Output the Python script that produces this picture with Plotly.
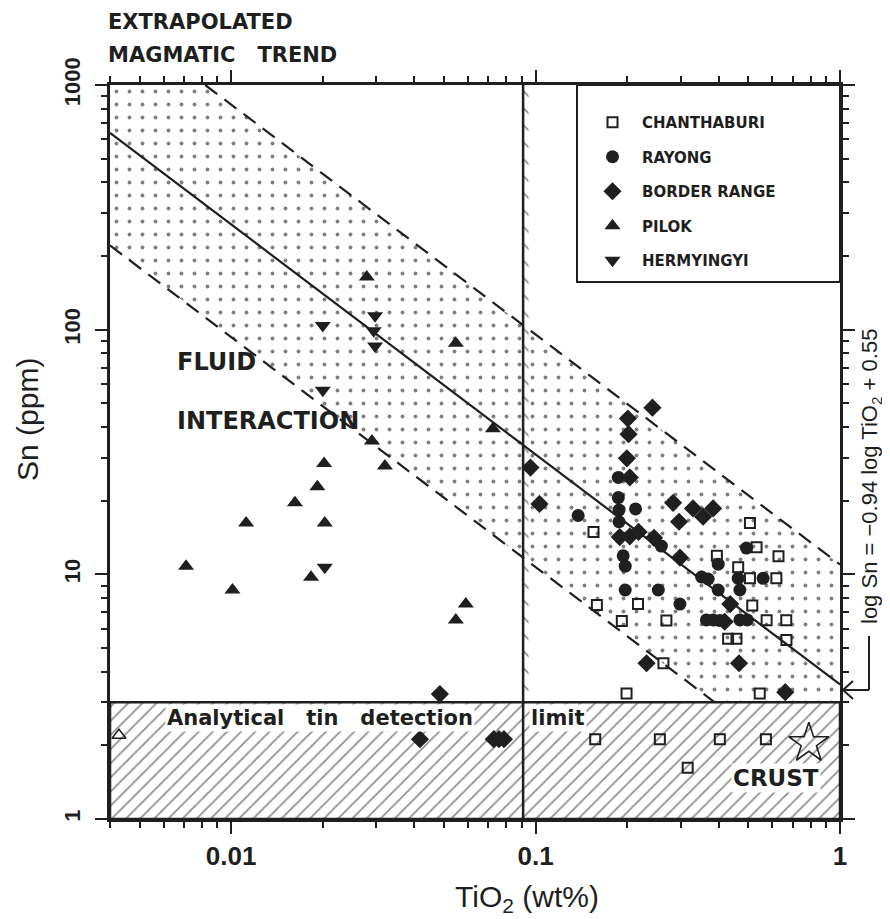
import numpy as np
import plotly.graph_objects as go

# ---------------- data ----------------
CHAN_TIO2 = [0.155, 0.159, 0.217, 0.192, 0.269, 0.263, 0.199, 0.506, 0.394, 0.532, 0.628, 0.463,
             0.506, 0.618, 0.515, 0.574, 0.666, 0.429, 0.457, 0.667, 0.545,
             0.157, 0.256, 0.403, 0.571, 0.316]
CHAN_SN = [14.9, 7.49, 7.56, 6.44, 6.47, 4.33, 3.26, 16.2, 11.9, 12.9, 11.85, 10.7,
           9.63, 9.63, 7.46, 6.49, 6.49, 5.46, 5.46, 5.39, 3.26,
           2.12, 2.12, 2.12, 2.12, 1.62]

RAY_TIO2 = [0.138, 0.187, 0.187, 0.188, 0.188, 0.213, 0.194, 0.197, 0.259, 0.351, 0.369, 0.197,
            0.253, 0.298, 0.398, 0.493, 0.463, 0.469, 0.559, 0.398, 0.364, 0.383, 0.403, 0.469, 0.496]
RAY_SN = [17.4, 24.9, 20.6, 18.3, 16.4, 18.5, 11.9, 10.8, 13.05, 9.75, 9.57, 8.63,
          8.63, 7.56, 11.0, 12.8, 9.63, 8.63, 9.63, 8.63, 6.51, 6.51, 6.47, 6.51, 6.51]

BORDER_TIO2 = [0.242, 0.201, 0.202, 0.1995, 0.204, 0.0962, 0.103, 0.189, 0.204, 0.218, 0.245, 0.298,
               0.283, 0.296, 0.329, 0.355, 0.383, 0.436, 0.418, 0.2315, 0.466, 0.661, 0.0485,
               0.0417, 0.0729, 0.0758, 0.0787]
BORDER_SN = [48.0, 43.3, 37.4, 29.8, 24.9, 27.3, 19.4, 14.2, 14.3, 14.9, 14.1, 11.7,
             19.6, 16.4, 18.6, 17.2, 18.6, 7.56, 6.40, 4.33, 4.33, 3.30, 3.24,
             2.12, 2.12, 2.12, 2.12]

PILOK_TIO2 = [0.0279, 0.0547, 0.0724, 0.0290, 0.0202, 0.0320, 0.0192, 0.0162, 0.0112, 0.0203,
              0.00711, 0.0183, 0.0101, 0.0590, 0.0547]
PILOK_SN = [164, 88, 39.4, 35.1, 28.4, 27.7, 22.8, 19.6, 16.2, 16.2, 10.8, 9.72, 8.63, 7.56, 6.51]
PILOK_BDL_TIO2 = [0.00428]
PILOK_BDL_SN = [2.20]

HERM_TIO2 = [0.0297, 0.0294, 0.0297, 0.0200, 0.0200, 0.0203]
HERM_SN = [114, 99.0, 85.7, 104, 56.6, 10.7]

CRUST_TIO2 = [0.79]
CRUST_SN = [2.04]

# trend: log Sn = SLOPE * log TiO2 + INTERCEPT
SLOPE = -0.94
INTERCEPT = 0.55
BAND_UPPER = 0.49     # offset of upper dashed line (log units)
BAND_LOWER = -0.46    # offset of lower dashed line (log units)
DETECTION_LIMIT = 3.0  # ppm Sn
BOUNDARY_TIO2 = 0.091

X_RANGE = [0.004, 1.0]
Y_RANGE = [1.0, 1000.0]
X_TICKS = [0.01, 0.1, 1]
X_TICK_TEXT = ["0.01", "0.1", "1"]
Y_TICKS = [1, 10, 100, 1000]
Y_TICK_TEXT = ["1", "10", "100", "1000"]

# ---------------- geometry derived from the equation ----------------
INK = "#1f1f1f"
lx0, lx1 = np.log10(X_RANGE)
ly0, ly1 = np.log10(Y_RANGE)
ldet = np.log10(DETECTION_LIMIT)


def trend(logx, off=0.0):
    return INTERCEPT + off + SLOPE * logx


lx_top = (ly1 - INTERCEPT - BAND_UPPER) / SLOPE      # upper line meets top
lx_det = (ldet - INTERCEPT - BAND_LOWER) / SLOPE     # lower line meets detection limit

band_lx = [lx0, lx_top, lx1, lx1, lx_det, lx0, lx0]
band_ly = [ly1, ly1, trend(lx1, BAND_UPPER), ldet, ldet, trend(lx0, BAND_LOWER), ly1]

fig = go.Figure()

# dotted band
fig.add_trace(go.Scatter(
    x=10 ** np.array(band_lx), y=10 ** np.array(band_ly), mode="lines",
    line=dict(width=0, color="rgba(0,0,0,0)"), fill="toself",
    fillcolor="rgba(0,0,0,0)",
    fillpattern=dict(shape=".", size=13, solidity=0.07, fgcolor="black", bgcolor="rgba(0,0,0,0)"),
    showlegend=False, hoverinfo="skip"))

# short hatch marks along the right side of the boundary line
strip_w = 10 ** (np.log10(BOUNDARY_TIO2) + 0.018)
fig.add_trace(go.Scatter(
    x=[BOUNDARY_TIO2, strip_w, strip_w, BOUNDARY_TIO2, BOUNDARY_TIO2],
    y=[DETECTION_LIMIT, DETECTION_LIMIT, Y_RANGE[1], Y_RANGE[1], DETECTION_LIMIT],
    mode="lines", line=dict(width=0, color="rgba(0,0,0,0)"), fill="toself",
    fillcolor="rgba(0,0,0,0)",
    fillpattern=dict(shape="\\", size=12, solidity=0.14, fgcolor=INK, bgcolor="rgba(0,0,0,0)"),
    showlegend=False, hoverinfo="skip"))

# hatched region below the analytical detection limit
fig.add_trace(go.Scatter(
    x=[X_RANGE[0], X_RANGE[1], X_RANGE[1], X_RANGE[0], X_RANGE[0]],
    y=[Y_RANGE[0], Y_RANGE[0], DETECTION_LIMIT, DETECTION_LIMIT, Y_RANGE[0]],
    mode="lines", line=dict(width=2.5, color=INK), fill="toself", fillcolor="white",
    fillpattern=dict(shape="/", size=10, solidity=0.18, fgcolor=INK, bgcolor="white"),
    showlegend=False, hoverinfo="skip"))

# trend line and dashed band limits
fig.add_trace(go.Scatter(x=10 ** np.array([lx0, lx1]), y=10 ** trend(np.array([lx0, lx1])),
                         mode="lines", line=dict(color=INK, width=2.2),
                         showlegend=False, hoverinfo="skip"))
fig.add_trace(go.Scatter(x=10 ** np.array([lx_top, lx1]),
                         y=10 ** trend(np.array([lx_top, lx1]), BAND_UPPER),
                         mode="lines", line=dict(color=INK, width=2.2, dash="15px,9px"),
                         showlegend=False, hoverinfo="skip"))
fig.add_trace(go.Scatter(x=10 ** np.array([lx0, lx_det]),
                         y=10 ** trend(np.array([lx0, lx_det]), BAND_LOWER),
                         mode="lines", line=dict(color=INK, width=2.2, dash="15px,9px"),
                         showlegend=False, hoverinfo="skip"))

# data series
series = [
    ("CHANTHABURI", CHAN_TIO2, CHAN_SN, dict(symbol="square-open", size=10, color=INK, line=dict(width=2, color=INK))),
    ("RAYONG", RAY_TIO2, RAY_SN, dict(symbol="circle", size=13, color=INK)),
    ("BORDER RANGE", BORDER_TIO2, BORDER_SN, dict(symbol="diamond", size=14, color=INK)),
    ("PILOK", PILOK_TIO2, PILOK_SN, dict(symbol="triangle-up", size=14, color=INK)),
    ("HERMYINGYI", HERM_TIO2, HERM_SN, dict(symbol="triangle-down", size=14, color=INK)),
]
for name, xs, ys, mk in series:
    fig.add_trace(go.Scatter(x=xs, y=ys, mode="markers", name=name, marker=mk,
                             legendgroup=name, cliponaxis=False))

fig.add_trace(go.Scatter(x=PILOK_BDL_TIO2, y=PILOK_BDL_SN, mode="markers",
                         marker=dict(symbol="triangle-up-open", size=12, color=INK, line=dict(width=1.5)),
                         showlegend=False, cliponaxis=False))
fig.add_trace(go.Scatter(x=CRUST_TIO2, y=CRUST_SN, mode="markers",
                         marker=dict(symbol="star-open", size=30, color=INK, line=dict(width=1.6)),
                         showlegend=False))


# page pixel -> paper coordinates (plot area spans x 110..840, y 85..819 on the page)
def px(xp):
    return (xp - 110) / 730.0


def py(yp):
    return (819 - yp) / 734.0


shapes = [
    # boundary line
    dict(type="line", xref="x", yref="y", x0=BOUNDARY_TIO2, x1=BOUNDARY_TIO2, y0=Y_RANGE[0], y1=Y_RANGE[1],
         line=dict(color=INK, width=2.5)),
    # legend box
    dict(type="rect", xref="paper", yref="paper", x0=px(577), x1=1.0, y0=py(282), y1=1.0,
         line=dict(color=INK, width=2), fillcolor="white", layer="below"),
    # equation arrow
    dict(type="line", xref="paper", yref="paper", x0=px(869), x1=px(869), y0=py(636), y1=py(690),
         line=dict(color=INK, width=2)),
    dict(type="line", xref="paper", yref="paper", x0=px(869), x1=px(843), y0=py(690), y1=py(690),
         line=dict(color=INK, width=2)),
    dict(type="line", xref="paper", yref="paper", x0=px(843), x1=px(853), y0=py(690), y1=py(681),
         line=dict(color=INK, width=2)),
    dict(type="line", xref="paper", yref="paper", x0=px(843), x1=px(853), y0=py(690), y1=py(699),
         line=dict(color=INK, width=2)),
]

BOLD = "DejaVu Sans"
SANS = "Liberation Sans"
NB = "\u00a0"


def ann(text, x, y, size, family=BOLD, xanchor="left", angle=0, bg=None):
    d = dict(text=text, xref="paper", yref="paper", x=x, y=y, xanchor=xanchor, yanchor="middle",
             showarrow=False, textangle=angle, font=dict(family=family, size=size, color=INK))
    if bg:
        d["bgcolor"] = bg
    return d


annotations = [
    ann("<b>EXTRAPOLATED</b>", px(106), py(22), 21),
    ann("<b>MAGMATIC" + NB * 3 + "TREND</b>", px(106), py(55), 21),
    ann("<b>FLUID</b>", px(175), py(362), 24),
    ann("<b>INTERACTION</b>", px(175), py(421), 24),
    ann("<b>Analytical" + NB * 3 + "tin" + NB * 3 + "detection</b>", px(165), py(718), 21, bg="white"),
    ann("<b>limit</b>", px(529), py(718), 21, bg="white"),
    ann("<b>CRUST</b>", px(731), py(778), 23, bg="white"),
    ann("log Sn = −0.94 log TiO<sub>2</sub> + 0.55", px(871), py(477), 22, family=SANS,
        xanchor="center", angle=-90),
    ann("TiO<sub>2</sub> (wt%)", px(527), py(898), 30, family=SANS, xanchor="center"),
    ann("Sn (ppm)", px(27), py(420), 30, family=SANS, xanchor="center", angle=-90),
]

x_minor = [m * 10.0 ** e for e in (-3, -2, -1) for m in range(2, 10)]
y_minor = [m * 10.0 ** e for e in (0, 1, 2) for m in range(2, 10)]

axis_common = dict(type="log", showgrid=False, zeroline=False, showline=True, linecolor=INK,
                   linewidth=2.5, mirror="ticks", ticks="outside", ticklen=12, tickwidth=2,
                   tickcolor=INK, tickmode="array")

# the page body adds an 8px margin, so the figure is sized to fit the 890x919 window
fig.update_layout(
    width=882, height=911,
    margin=dict(l=102, r=50, t=77, b=100),
    paper_bgcolor="white", plot_bgcolor="white",
    xaxis=dict(**axis_common, range=[lx0, lx1], tickvals=X_TICKS, ticktext=X_TICK_TEXT,
               tickfont=dict(family=SANS, size=26, color=INK, weight="bold"),
               minor=dict(tickmode="array", tickvals=x_minor, ticks="outside", ticklen=6,
                          tickwidth=1.6, tickcolor=INK)),
    yaxis=dict(**axis_common, range=[ly0, ly1], tickvals=Y_TICKS, ticktext=Y_TICK_TEXT,
               tickangle=-90, ticklabelstandoff=6,
               tickfont=dict(family=SANS, size=22, color=INK, weight="bold"),
               minor=dict(tickmode="array", tickvals=y_minor, ticks="outside", ticklen=6,
                          tickwidth=1.6, tickcolor=INK)),
    shapes=shapes,
    annotations=annotations,
    showlegend=True,
    legend=dict(x=px(583), y=py(106), xanchor="left", yanchor="top",
                bgcolor="rgba(0,0,0,0)", borderwidth=0, itemwidth=49,
                tracegroupgap=12, traceorder="grouped",
                font=dict(family=BOLD, size=15, color=INK, weight="bold")),
)

fig.write_html("out.html")
